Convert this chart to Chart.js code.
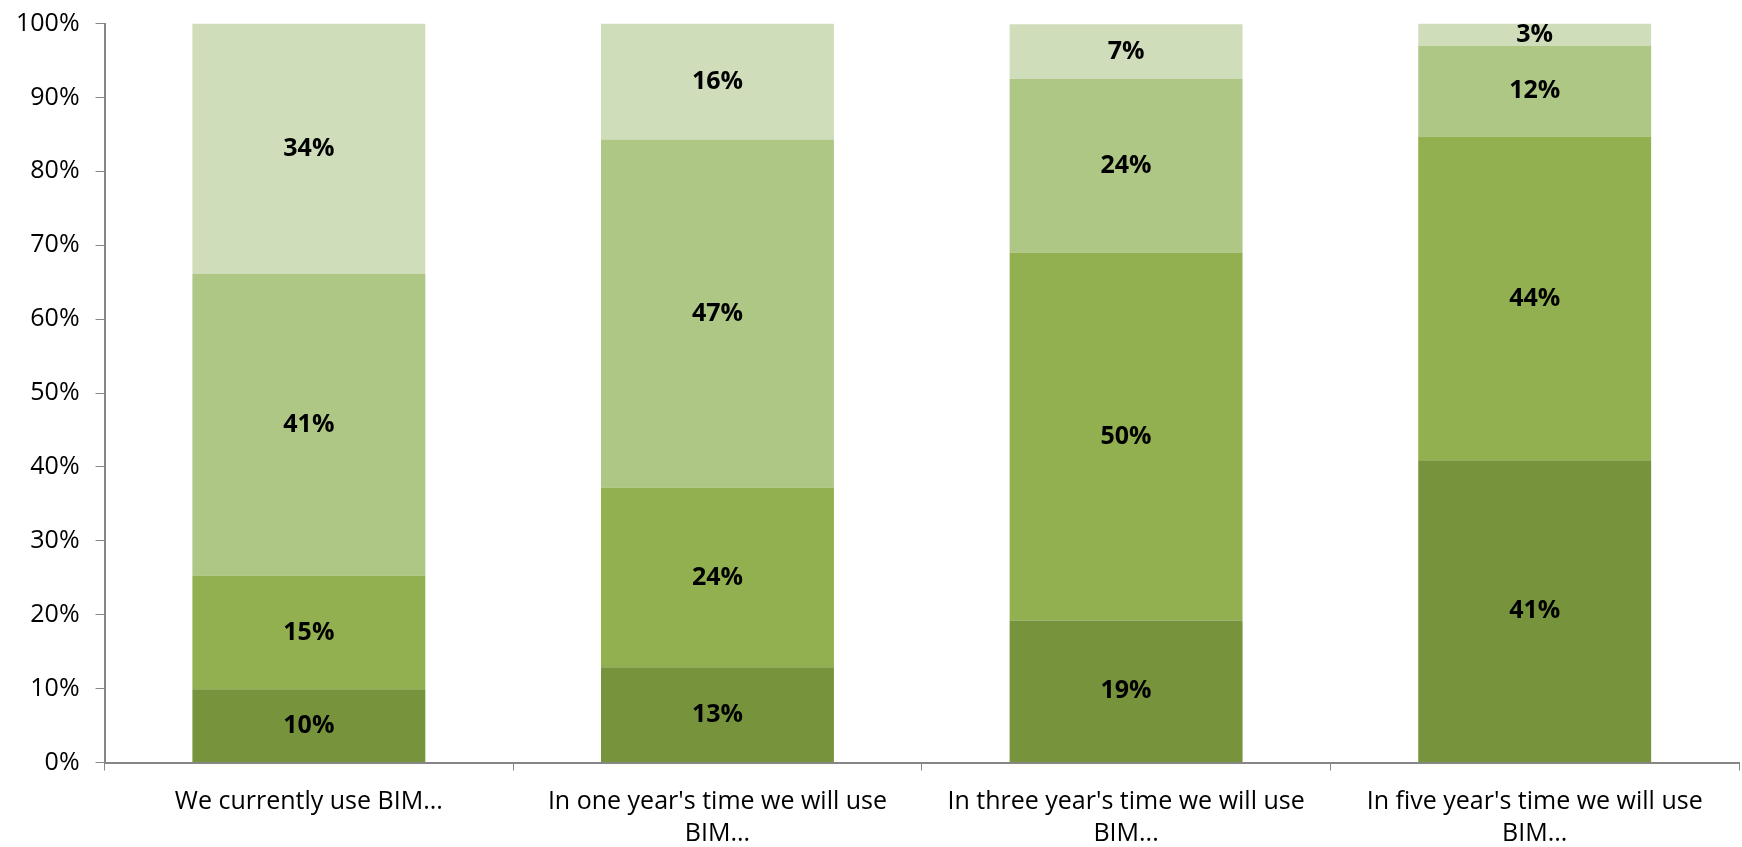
<!DOCTYPE html>
<html>
<head>
<meta charset="utf-8">
<script src="https://cdn.jsdelivr.net/npm/chart.js@4/dist/chart.umd.min.js"></script>
<style>
  html, body { margin: 0; padding: 0; background: #fff; }
  #wrap { width: 1742px; height: 847px; position: relative; }
</style>
</head>
<body>
<div id="wrap"><canvas id="myChart"></canvas></div>
<script>
'use strict';

let categories = [
  ['We currently use BIM...'],
  ['In one year\'s time we will use', 'BIM...'],
  ['In three year\'s time we will use', 'BIM...'],
  ['In five year\'s time we will use', 'BIM...']
];
let level1 = [9.9, 12.9, 19.2, 40.9];
let level2 = [15.4, 24.3, 49.8, 43.8];
let level3 = [40.8, 47.1, 23.5, 12.3];
let level4 = [33.9, 15.7, 7.4, 3.0];
let yTicks = [0, 10, 20, 30, 40, 50, 60, 70, 80, 90, 100];

let colors = ['#77933c', '#92b050', '#afc785', '#d0ddba'];
let fontName = '"Open Sans", Lato, sans-serif';

// draw the bold value in the middle of every segment
let valueLabels = {
  id: 'valueLabels',
  afterDatasetsDraw(chart) {
    let ctx = chart.ctx;
    ctx.save();
    ctx.font = 'bold 25px ' + fontName;
    ctx.fillStyle = '#000';
    ctx.textAlign = 'center';
    ctx.textBaseline = 'middle';
    chart.data.datasets.forEach((ds, i) => {
      chart.getDatasetMeta(i).data.forEach((bar, j) => {
        let mid = (bar.y + bar.base) / 2;
        ctx.fillText(Math.round(ds.data[j]) + '%', bar.x, mid);
      });
    });
    ctx.restore();
  }
};

let sets = [level1, level2, level3, level4];
let ctx = document.getElementById('myChart');
new Chart(ctx, {
  type: 'bar',
  data: {
    labels: categories,
    datasets: sets.map((d, i) => ({
      label: 'level ' + (i + 1),
      data: d,
      backgroundColor: colors[i],
      borderWidth: 0,
      barPercentage: 1,
      categoryPercentage: 0.57
    }))
  },
  options: {
    responsive: true,
    maintainAspectRatio: false,
    animation: false,
    layout: { padding: { top: 6, right: 3, left: 0, bottom: -18 } },
    plugins: {
      legend: { display: false },
      tooltip: { enabled: false }
    },
    scales: {
      x: {
        stacked: true,
        grid: {
          drawOnChartArea: false,
          drawTicks: true,
          tickLength: 8,
          color: '#868686',
          offset: true
        },
        border: { color: '#868686', width: 2 },
        ticks: {
          color: '#000',
          font: { family: fontName, size: 25, lineHeight: 1.25 },
          maxRotation: 0,
          autoSkip: false,
          padding: 16
        }
      },
      y: {
        stacked: true,
        min: 0,
        max: 100,
        afterBuildTicks(axis) {
          axis.ticks = yTicks.map(v => ({ value: v }));
        },
        grid: {
          drawOnChartArea: false,
          drawTicks: true,
          tickLength: 9,
          color: '#868686'
        },
        border: { color: '#868686', width: 2 },
        ticks: {
          color: '#000',
          font: { family: fontName, size: 25, lineHeight: 0.6 },
          padding: 16,
          callback: v => v + '%'
        }
      }
    }
  },
  plugins: [valueLabels]
});
</script>
</body>
</html>
